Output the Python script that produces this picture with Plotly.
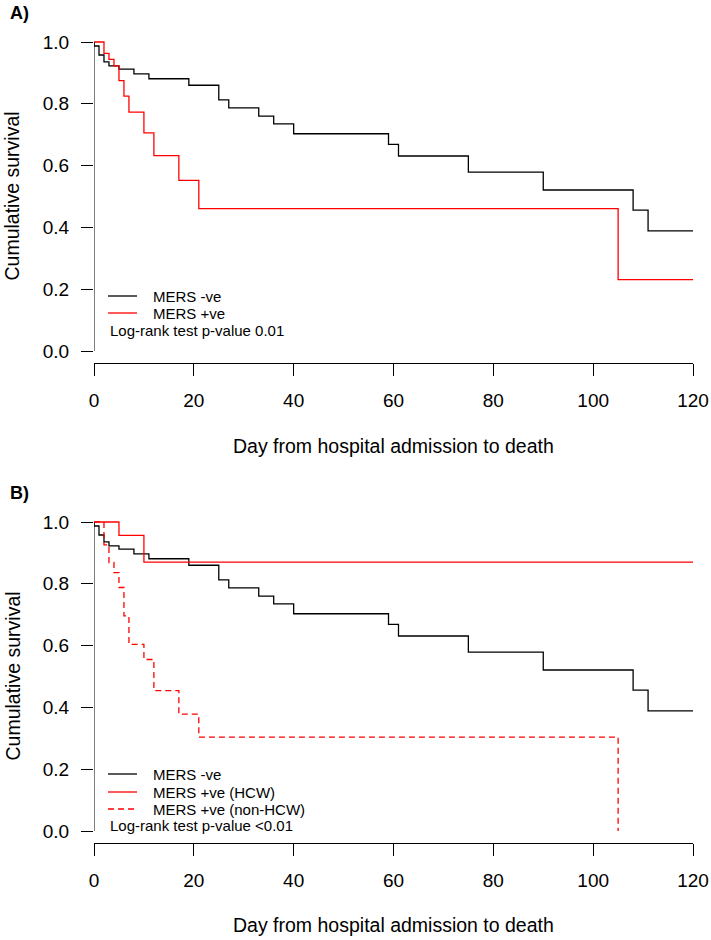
import plotly.graph_objects as go

# ---------------- data ----------------
# Panel A / B common: MERS -ve
neg_days = [0, 0, 1, 2, 3, 5, 8, 11, 19, 25, 27, 33, 36, 40, 59, 61, 75, 90, 108, 111, 120]
neg_surv = [1.0, 0.987, 0.958, 0.936, 0.923, 0.912, 0.897, 0.881, 0.860, 0.813, 0.787,
            0.760, 0.735, 0.703, 0.669, 0.631, 0.579, 0.521, 0.456, 0.389, 0.389]

# Panel A: MERS +ve
pos_days = [0, 2, 3, 4, 5, 6, 7, 10, 12, 17, 21, 105, 120]
pos_surv = [1.0, 0.963, 0.944, 0.923, 0.875, 0.825, 0.773, 0.706, 0.632, 0.552, 0.461, 0.231, 0.231]

# Panel B: MERS +ve split by HCW status
hcw_days = [0, 5, 10, 120]
hcw_surv = [1.0, 0.957, 0.870, 0.870]

nonhcw_days = [0, 2, 3, 4, 5, 6, 7, 10, 12, 17, 21, 105]
nonhcw_surv = [1.0, 0.926, 0.869, 0.836, 0.788, 0.696, 0.604, 0.555, 0.454, 0.378, 0.304, 0.0]

x_ticks = [0, 20, 40, 60, 80, 100, 120]
y_ticks = [0.0, 0.2, 0.4, 0.6, 0.8, 1.0]
y_tick_text = ["0.0", "0.2", "0.4", "0.6", "0.8", "1.0"]

x_title = "Day from hospital admission to death"
y_title = "Cumulative survival"
pvals = ["Log-rank test p-value 0.01", "Log-rank test p-value <0.01"]
panel_labels = ["A)", "B)"]

# ---------------- layout helpers ----------------
W, H = 711, 940
FONT = "Liberation Sans, Arial, sans-serif"
BLACK = "#000000"
RED = "#FF0000"
DASH = "6px,4px"


def py(px):  # pixel from top -> paper y
    return 1 - px / H


def pxx(px):  # pixel from left -> paper x
    return px / W


fig = go.Figure()

series_A = [
    (neg_days, neg_surv, BLACK, "solid", "MERS -ve"),
    (pos_days, pos_surv, RED, "solid", "MERS +ve"),
]
series_B = [
    (neg_days, neg_surv, BLACK, "solid", "MERS -ve"),
    (hcw_days, hcw_surv, RED, "solid", "MERS +ve (HCW)"),
    (nonhcw_days, nonhcw_surv, RED, DASH, "MERS +ve (non-HCW)"),
]

for k, series in enumerate([series_A, series_B]):
    sfx = "" if k == 0 else str(k + 1)
    for xs, ys, col, dash, name in series:
        fig.add_trace(go.Scatter(x=xs, y=ys, mode="lines", line_shape="hv",
                                 line=dict(color=col, width=1.3, dash=dash),
                                 name=name, showlegend=False,
                                 xaxis="x" + sfx, yaxis="y" + sfx))

# panel geometry (pixels)
x_left, x_right = 94, 693
panels = [
    dict(y0=351, y1=42, title_y=446, label_y=13, leg_y=[296, 313], p_y=331),   # A
    dict(y0=831, y1=522, title_y=925, label_y=493, leg_y=[774, 792, 809], p_y=825),  # B
]

tickfont = dict(family=FONT, size=19, color=BLACK)

layout = dict(
    width=W, height=H,
    margin=dict(l=0, r=0, t=0, b=0),
    paper_bgcolor="white", plot_bgcolor="white",
    font=dict(family=FONT, color=BLACK),
    showlegend=False,
    annotations=[], shapes=[],
)

for i, p in enumerate(panels):
    suffix = "" if i == 0 else str(i + 1)
    unit = (p["y0"] - p["y1"])  # pixels per 1.0
    bot = p["y0"] + 0.04 * unit
    top = p["y1"] - 0.04 * unit
    layout["xaxis" + suffix] = dict(
        domain=[pxx(x_left), pxx(x_right)], range=[0, 120],
        anchor="y" + suffix, showgrid=False, zeroline=False,
        showline=True, linecolor=BLACK, linewidth=1,
        ticks="outside", ticklen=12, tickcolor=BLACK, tickwidth=1,
        tickvals=x_ticks, ticktext=[str(v) for v in x_ticks],
        tickfont=tickfont, ticklabelstandoff=8, automargin=False,
    )
    layout["yaxis" + suffix] = dict(
        domain=[py(bot), py(top)], range=[-0.04, 1.04],
        anchor="x" + suffix, showgrid=False, zeroline=False,
        showline=False,
        ticks="outside", ticklen=12, tickcolor=BLACK, tickwidth=1,
        tickvals=y_ticks, ticktext=y_tick_text,
        tickfont=tickfont, ticklabelstandoff=8, automargin=False,
    )
    # y axis line from 0 to 1 (R style)
    layout["shapes"].append(dict(type="line", xref="x" + suffix, yref="y" + suffix,
                                 x0=0, x1=0, y0=0, y1=1,
                                 line=dict(color=BLACK, width=1)))
    # axis titles
    layout["annotations"].append(dict(
        text=x_title, xref="paper", yref="paper",
        x=pxx((x_left + x_right) / 2), y=py(p["title_y"]),
        xanchor="center", yanchor="middle", showarrow=False,
        font=dict(family=FONT, size=19.5, color=BLACK)))
    layout["annotations"].append(dict(
        text=y_title, xref="paper", yref="paper",
        x=pxx(12), y=py((p["y0"] + p["y1"]) / 2), textangle=-90,
        xanchor="center", yanchor="middle", showarrow=False,
        font=dict(family=FONT, size=19.5, color=BLACK)))
    # panel label
    layout["annotations"].append(dict(
        text="<b>" + panel_labels[i] + "</b>", xref="paper", yref="paper",
        x=pxx(8), y=py(p["label_y"]), xanchor="left", yanchor="middle",
        showarrow=False, font=dict(family=FONT, size=18, color=BLACK)))

    # legend (R style: short line key + label)
    series = series_A if i == 0 else series_B
    for (xs, ys, col, dash, name), ly in zip(series, p["leg_y"]):
        layout["shapes"].append(dict(type="line", xref="paper", yref="paper",
                                     x0=pxx(108), x1=pxx(137), y0=py(ly), y1=py(ly),
                                     line=dict(color=col, width=1.3, dash=dash)))
        layout["annotations"].append(dict(
            text=name, xref="paper", yref="paper",
            x=pxx(151), y=py(ly), xanchor="left", yanchor="middle",
            showarrow=False, font=dict(family=FONT, size=15, color=BLACK)))
    layout["annotations"].append(dict(
        text=pvals[i], xref="paper", yref="paper",
        x=pxx(108), y=py(p["p_y"]), xanchor="left", yanchor="middle",
        showarrow=False, font=dict(family=FONT, size=15, color=BLACK)))

fig.update_layout(**layout)
fig.write_html(
    "out.html",
    config={"displayModeBar": False},
    post_script="document.body.style.margin='0';"
                "document.body.style.overflow='hidden';"
                "document.documentElement.style.overflow='hidden';",
)
